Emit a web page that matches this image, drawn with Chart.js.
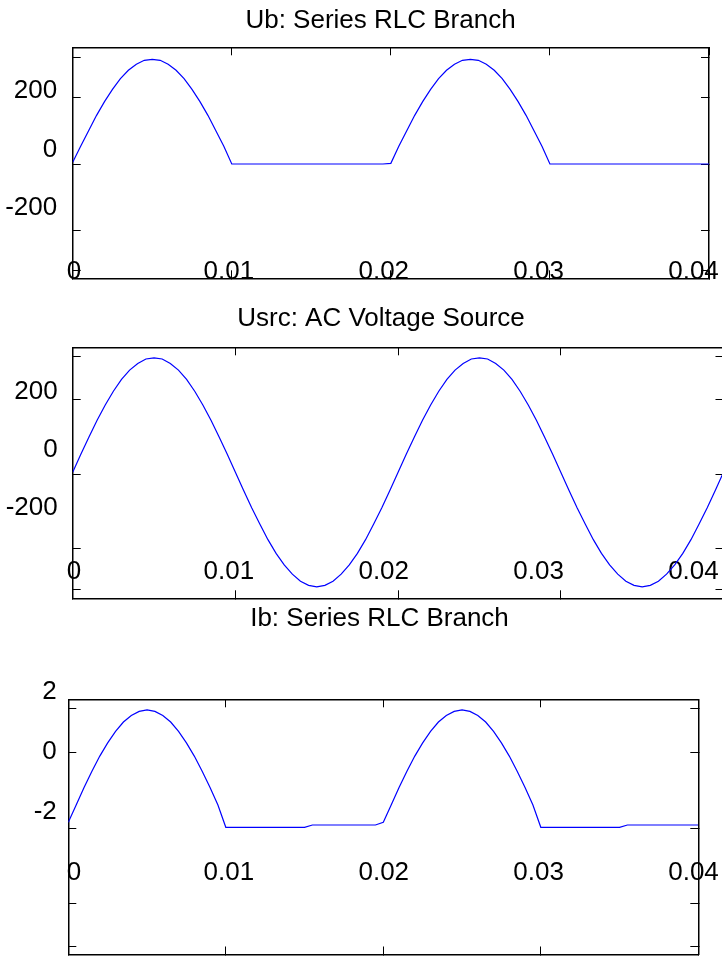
<!DOCTYPE html>
<html>
<head>
<meta charset="utf-8">
<title>Series RLC Branch</title>
<script src="https://cdn.jsdelivr.net/npm/chart.js@4.4.1/dist/chart.umd.min.js"></script>
<style>
  html, body { margin: 0; padding: 0; background: #fff; width: 722px; height: 956px; overflow: hidden; position: relative; }
  canvas { position: absolute; left: 0; }
</style>
</head>
<body>
<canvas id="ub" width="761" height="290" style="top:0px;width:761px;height:290px"></canvas>
<canvas id="usrc" width="762" height="310" style="top:290px;width:762px;height:310px"></canvas>
<canvas id="ib" width="759" height="366" style="top:590px;width:759px;height:366px"></canvas>
<script>
// Sample times (s)
const time = [
  0, 0.0005, 0.001, 0.0015, 0.002, 0.0025, 0.003, 0.0035, 0.004, 0.0045,
  0.005, 0.0055, 0.006, 0.0065, 0.007, 0.0075, 0.008, 0.0085, 0.009, 0.0095,
  0.01, 0.0105, 0.011, 0.0115, 0.012, 0.0125, 0.013, 0.0135, 0.014, 0.0145,
  0.015, 0.0155, 0.016, 0.0165, 0.017, 0.0175, 0.018, 0.0185, 0.019, 0.0195,
  0.02, 0.0205, 0.021, 0.0215, 0.022, 0.0225, 0.023, 0.0235, 0.024, 0.0245,
  0.025, 0.0255, 0.026, 0.0265, 0.027, 0.0275, 0.028, 0.0285, 0.029, 0.0295,
  0.03, 0.0305, 0.031, 0.0315, 0.032, 0.0325, 0.033, 0.0335, 0.034, 0.0345,
  0.035, 0.0355, 0.036, 0.0365, 0.037, 0.0375, 0.038, 0.0385, 0.039, 0.0395,
  0.04
];

// Branch voltage Ub (V)
const ubValues = [
  5, 53, 100, 146, 187, 224, 256, 281, 299, 311,
  314, 311, 299, 281, 256, 224, 187, 146, 100, 53,
  0, 0, 0, 0, 0, 0, 0, 0, 0, 0,
  0, 0, 0, 0, 0, 0, 0, 0, 0, 0,
  2, 53, 100, 146, 187, 224, 256, 281, 299, 311,
  314, 311, 299, 281, 256, 224, 187, 146, 100, 53,
  0, 0, 0, 0, 0, 0, 0, 0, 0, 0,
  0, 0, 0, 0, 0, 0, 0, 0, 0, 0,
  0
];

// Source voltage Usrc (V)
const usrcValues = [
  5, 53, 100, 145, 186, 223, 255, 280, 298, 310,
  313, 310, 298, 280, 255, 223, 186, 145, 100, 53,
  5, -44, -91, -135, -177, -214, -245, -270, -289, -300,
  -304, -300, -289, -270, -245, -214, -177, -135, -91, -44,
  5, 53, 100, 145, 186, 223, 255, 280, 298, 310,
  313, 310, 298, 280, 255, 223, 186, 145, 100, 53,
  5, -44, -91, -135, -177, -214, -245, -270, -289, -300,
  -304, -300, -289, -270, -245, -214, -177, -135, -91, -44,
  5
];

// Branch current Ib (A)
const ibValues = [
  0.15, 0.61, 1.07, 1.50, 1.90, 2.25, 2.55, 2.80, 2.97, 3.08,
  3.12, 3.08, 2.97, 2.80, 2.55, 2.25, 1.90, 1.50, 1.07, 0.61,
  0.02, 0.02, 0.02, 0.02, 0.02, 0.02, 0.02, 0.02, 0.02, 0.02,
  0.02, 0.08, 0.08, 0.08, 0.08, 0.08, 0.08, 0.08, 0.08, 0.08,
  0.15, 0.61, 1.07, 1.50, 1.90, 2.25, 2.55, 2.80, 2.97, 3.08,
  3.12, 3.08, 2.97, 2.80, 2.55, 2.25, 1.90, 1.50, 1.07, 0.61,
  0.02, 0.02, 0.02, 0.02, 0.02, 0.02, 0.02, 0.02, 0.02, 0.02,
  0.02, 0.08, 0.08, 0.08, 0.08, 0.08, 0.08, 0.08, 0.08, 0.08,
  0.08
];

// Tick marks on the frame
const timeTicks = [0, 0.01, 0.02, 0.03, 0.04];
const ubTicks = [-320, -200, 0, 200, 320];
const usrcTicks = [-311, -200, 0, 200, 318];
const ibTicks = [-3.13, -2, 0, 2, 3.16];

// Tick labels
const timeLabels = [0, 0.01, 0.02, 0.03, 0.04];
const ubLabels = [-200, 0, 200];
const usrcLabels = [-200, 0, 200];
const ibLabels = [-2, 0, 2];

const titles = ['Ub: Series RLC Branch', 'Usrc: AC Voltage Source', 'Ib: Series RLC Branch'];

Chart.defaults.font.family = "'Liberation Sans', Arial, Helvetica, sans-serif";
Chart.defaults.font.size = 26;
Chart.defaults.color = '#000';

const setTicks = values => scale => { scale.ticks = values.map(v => ({ value: v })); };

// Pin an axis box to a fixed thickness and keep its label overhang out of the layout
const pinSize = (axis, size) => scale => {
  if (axis === 'x') { scale.height = size; } else { scale.width = size; }
  scale.paddingTop = 0;
  scale.paddingBottom = 0;
  scale.paddingLeft = 0;
  scale.paddingRight = 0;
};

// Frame side: border line plus inward tick marks, no text
function frameAxis(axis, position, min, max, ticks, size) {
  return {
    type: 'linear', axis, position, min, max, bounds: 'data',
    afterBuildTicks: setTicks(ticks),
    afterFit: pinSize(axis, size || 0),
    ticks: { display: false },
    grid: { display: true, drawOnChartArea: false, drawTicks: true, tickLength: -8, tickColor: '#000', tickWidth: 1 },
    border: { display: true, color: '#000', width: 1.5 }
  };
}

// Text-only axis carrying the numeric tick labels
function labelAxis(axis, position, min, max, values, size, pad) {
  return {
    type: 'linear', axis, position, min, max, bounds: 'data', weight: 1,
    afterBuildTicks: setTicks(values),
    afterFit: pinSize(axis, size),
    ticks: {
      display: true, autoSkip: false, maxRotation: 0, minRotation: 0,
      mirror: axis === 'x', padding: pad, color: '#000',
      callback: v => String(v)
    },
    grid: { display: false },
    border: { display: false }
  };
}

const panels = [
  { id: 'ub', title: titles[0], values: ubValues, frameTicks: ubTicks, labels: ubLabels,
    yMin: -342.7, yMax: 350, labMin: -438.7, labMax: 349,
    xLabMin: -0.000084, xLabMax: 0.0410,
    left: 72.7, right: 52, bottom: 11.7, titlePad: { top: 5.4, bottom: 10.7 },
    yLabPad: 7.5, xLabPad: -8.7 },
  { id: 'usrc', title: titles[1], values: usrcValues, frameTicks: usrcTicks, labels: usrcLabels,
    yMin: -335, yMax: 341.5, labMin: -509.4, labMax: 351.6,
    xLabMin: -0.000084, xLabMax: 0.04194,
    left: 72.7, right: 38.5, bottom: 1.7, titlePad: { top: 13.7, bottom: 12.4 },
    yLabPad: 7, xLabPad: 11.3 },
  { id: 'ib', title: titles[2], values: ibValues, frameTicks: ibTicks, labels: ibLabels,
    yMin: -3.34, yMax: 3.40, labMin: -6.77, labMax: 1.74,
    xLabMin: -0.000368, xLabMax: 0.04031,
    left: 68.3, right: 60.7, bottom: 1.5, titlePad: { top: 13.7, bottom: 64.4 },
    yLabPad: 3.5, xLabPad: 65.8 }
];

panels.forEach(p => {
  new Chart(document.getElementById(p.id), {
    type: 'line',
    data: {
      datasets: [{
        data: time.map((t, i) => ({ x: t, y: p.values[i] })),
        borderColor: '#0000ff',
        borderWidth: 1.2,
        pointRadius: 0,
        fill: false,
        tension: 0,
        xAxisID: 'x',
        yAxisID: 'y'
      }]
    },
    options: {
      responsive: false,
      animation: false,
      events: [],
      layout: { padding: { top: 0, left: 0, right: 0, bottom: p.bottom } },
      plugins: {
        legend: { display: false },
        tooltip: { enabled: false },
        title: {
          display: true, text: p.title, color: '#000',
          font: { size: 26, weight: 'normal' },
          padding: p.titlePad
        }
      },
      scales: {
        x: frameAxis('x', 'bottom', 0, 0.04, timeTicks),
        x2: frameAxis('x', 'top', 0, 0.04, timeTicks),
        y: frameAxis('y', 'left', p.yMin, p.yMax, p.frameTicks, 0),
        y2: frameAxis('y', 'right', p.yMin, p.yMax, p.frameTicks, p.right),
        xLab: labelAxis('x', 'bottom', p.xLabMin, p.xLabMax, timeLabels, 0, p.xLabPad),
        yLab: labelAxis('y', 'left', p.labMin, p.labMax, p.labels, p.left, p.yLabPad)
      }
    }
  });
});
</script>
</body>
</html>
